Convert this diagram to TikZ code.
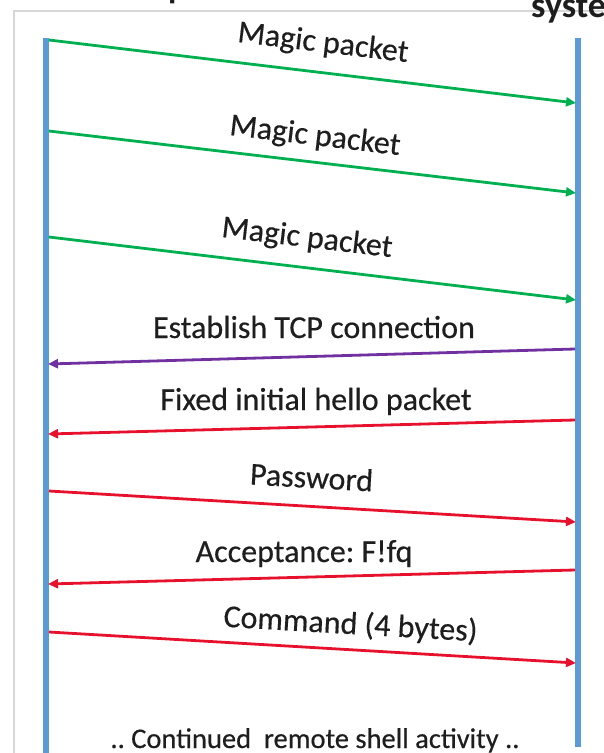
\documentclass[tikz,border=0pt]{standalone}
\usepackage{fontspec}
\setmainfont{Carlito}
\newfontfamily\lblfont[FakeBold=0.4]{Carlito}
\usetikzlibrary{arrows.meta}
\definecolor{lifeblue}{RGB}{91,155,213}
\definecolor{msggreen}{RGB}{0,176,80}
\definecolor{msgpurple}{RGB}{112,48,160}
\definecolor{msgred}{RGB}{232,17,45}
\definecolor{framegray}{RGB}{215,215,215}
\definecolor{txt}{RGB}{30,30,30}
\tikzset{
  lifeline/.style={draw=lifeblue, line width=6.5pt},
  msg/.style={line width=2.8pt, -{Triangle[length=10pt,width=9pt]}},
  lbl/.style={anchor=base, inner sep=0pt, text=txt, font=\lblfont\fontsize{32}{36}\selectfont},
  foot/.style={anchor=base, inner sep=0pt, text=txt, font=\lblfont\fontsize{28.5}{32}\selectfont},
}
\frenchspacing
\begin{document}
\begin{tikzpicture}[x=1pt,y=-1pt]
\useasboundingbox (0,0) rectangle (603,753);
\clip (0,0) rectangle (603,753);
% frame
\draw[framegray, line width=1.5pt] (14,753) -- (14,11) -- (603,11);
% cut-off header texts
\node[anchor=base west, inner sep=0pt, text=txt, font=\fontsize{34}{36}\selectfont\bfseries] (title) at (168,-2) {p};
\node[anchor=base west, inner sep=0pt, text=txt, font=\fontsize{36}{40}\selectfont\bfseries] (sys) at (531,17) {system};
% lifelines
\coordinate (Ltop) at (46,38); \coordinate (Lbot) at (46,753);
\coordinate (Rtop) at (578,38); \coordinate (Rbot) at (578,747);
\draw[lifeline] (Ltop) -- (Lbot);
\draw[lifeline] (Rtop) -- (Rbot);
% message endpoints
\coordinate (a1) at (49,40);  \coordinate (b1) at (576,103);
\coordinate (a2) at (49,131); \coordinate (b2) at (576,193);
\coordinate (a3) at (49,237); \coordinate (b3) at (576,300);
\coordinate (b4) at (575,349); \coordinate (a4) at (48,364);
\coordinate (b5) at (575,420); \coordinate (a5) at (48,434);
\coordinate (a6) at (49,491); \coordinate (b6) at (576,522);
\coordinate (b7) at (575,570); \coordinate (a7) at (48,584);
\coordinate (a8) at (49,632); \coordinate (b8) at (576,663);
% messages
\draw[msg, msggreen] (a1) -- (b1);
\draw[msg, msggreen] (a2) -- (b2);
\draw[msg, msggreen] (a3) -- (b3);
\draw[msg, msgpurple] (b4) -- (a4);
\draw[msg, msgred] (b5) -- (a5);
\draw[msg, msgred] (a6) -- (b6);
\draw[msg, msgred] (b7) -- (a7);
\draw[msg, msgred] (a8) -- (b8);
% labels
\node[lbl, rotate=-6.8] (l1) at (322,52) {Magic packet};
\node[lbl, rotate=-6.8] (l2) at (314,145) {Magic packet};
\node[lbl, rotate=-6.8] (l3) at (306,247) {Magic packet};
\node[lbl] (l4) at (314,338) {Establish TCP connection};
\node[lbl] (l5) at (316,410) {Fixed initial hello packet};
\node[lbl, rotate=-3.3] (l6) at (311,488) {Password};
\node[lbl] (l7) at (304,562) {Acceptance: F!fq};
\node[lbl, rotate=-3.3] (l8) at (350,634) {Command (4 bytes)};
\node[foot] (l9) at (315,748) {.. Continued\ \ remote shell activity ..};
\end{tikzpicture}
\end{document}
